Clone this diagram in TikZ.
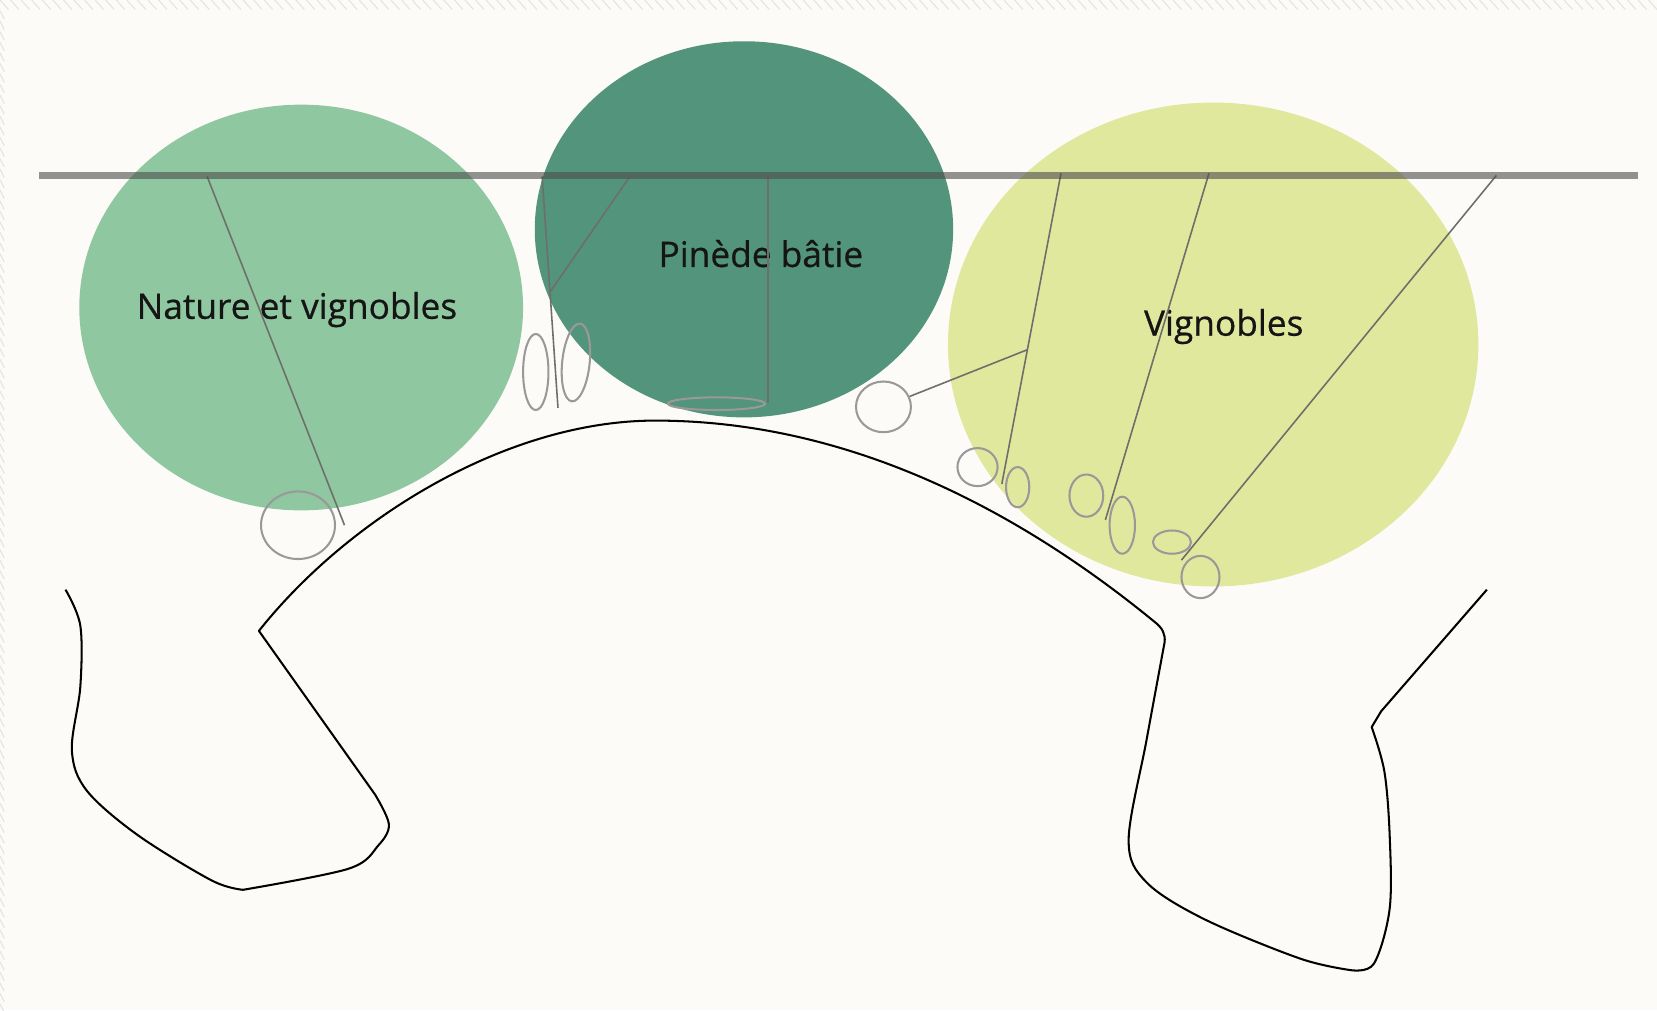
\documentclass[tikz,border=0pt]{standalone}
\usepackage{fontspec}
\setmainfont{Open Sans}
\newfontfamily\zonefont[FakeBold=0.6]{Open Sans}
\usetikzlibrary{shapes.geometric}

\definecolor{paper}{HTML}{FCFBF8}
\definecolor{hatchgray}{HTML}{E4E4E6}
\definecolor{natgreen}{HTML}{8FC7A0}
\definecolor{pinegreen}{HTML}{52947C}
\definecolor{vinegreen}{HTML}{E0E89E}
\definecolor{bargray}{HTML}{505050}
\definecolor{tiegray}{HTML}{6E6E6A}
\definecolor{podgray}{HTML}{9A9898}
\definecolor{labelink}{HTML}{151515}

\begin{document}
\begin{tikzpicture}[x=0.02cm,y=-0.02cm,
  zone label/.style={font=\zonefont\fontsize{19}{23}\selectfont,text=labelink},
  pod/.style={ellipse,draw=podgray,line width=1.1pt,inner sep=0pt},
  tie/.style={draw=tiegray,line width=0.85pt},
  coast/.style={draw=black,line width=1.1pt,line join=round}]

  \fill[paper] (0,0) rectangle (1568,956);
  \useasboundingbox (0,0) rectangle (1568,956);

  % screenshot edge
  \foreach \x in {0,10,...,1560}
    \draw[hatchgray,line width=0.6pt] (\x,0) -- (\x+8,9);
  \foreach \y in {10,20,...,950}
    \draw[hatchgray,line width=0.6pt] (0,\y) -- (4,\y+8);

  % zones
  \fill[natgreen] (285,291) ellipse [x radius=4.2cm, y radius=3.84cm];
  \fill[pinegreen] (704,217) ellipse [x radius=3.96cm, y radius=3.56cm];
  \fill[vinegreen] (1148,326) ellipse [x radius=5.02cm, y radius=4.58cm];

  \node[zone label] (nat) at (281,293) {Nature et vignobles};
  \node[zone label] (pine) at (720,240) {Pinède bâtie};
  \node[zone label] (vine) at (1158,309) {Vignobles};

  % coast line
  \draw[coast] plot[smooth,tension=0.55] coordinates {(62,558) (76,592) (76,650) (68,710) (82,748) (130,790) (200,833) (230,842)}
    -- plot[smooth,tension=0.55] coordinates {(230,842) (330,822) (358,800) (368,780) (355,752)}
    -- (245,597)
    .. controls (330,490) and (480,398) .. (620,398)
    .. controls (800,398) and (960,480) .. (1092,588)
    .. controls (1100,594) and (1103,600) .. (1102,608)
    -- plot[smooth,tension=0.55] coordinates {(1102,608) (1085,700) (1068,795) (1085,835) (1140,870) (1230,907) (1278,918)}
    -- plot[smooth,tension=0.55] coordinates {(1278,918) (1300,912) (1315,860) (1315,790) (1310,730) (1298,688)}
    -- (1307,673) -- (1407,558);

  % small boats
  \node[pod,minimum width=1.40cm,minimum height=1.28cm] (p1) at (282,497) {};
  \node[pod,minimum width=0.48cm,minimum height=1.44cm] (p2) at (507,352) {};
  \node[pod,minimum width=0.52cm,minimum height=1.48cm,rotate=-6] (p3) at (545,343) {};
  \node[pod,minimum width=1.84cm,minimum height=0.24cm] (p4) at (678,382) {};
  \node[pod,minimum width=1.04cm,minimum height=0.96cm] (p5) at (836,385) {};
  \node[pod,minimum width=0.76cm,minimum height=0.72cm] (p6) at (925,442) {};
  \node[pod,minimum width=0.44cm,minimum height=0.76cm] (p7) at (963,461) {};
  \node[pod,minimum width=0.64cm,minimum height=0.80cm] (p8) at (1028,469) {};
  \node[pod,minimum width=0.48cm,minimum height=1.08cm] (p9) at (1062,497) {};
  \node[pod,minimum width=0.72cm,minimum height=0.44cm] (p10) at (1109,513) {};
  \node[pod,minimum width=0.72cm,minimum height=0.80cm] (p11) at (1136,546) {};

  % mooring lines
  \coordinate (t1) at (196,167);
  \coordinate (b1) at (326,497);
  \coordinate (t2) at (596,167);
  \coordinate (k2) at (520,277);
  \coordinate (t3) at (513,167);
  \coordinate (b3) at (528,386);
  \coordinate (t4) at (727,167);
  \coordinate (b4) at (727,381);
  \coordinate (t5) at (1004,164);
  \coordinate (k5) at (972,331);
  \coordinate (b5) at (948,458);
  \coordinate (t6) at (1144,164);
  \coordinate (b6) at (1046,492);
  \coordinate (t7) at (1416,166);
  \coordinate (b7) at (1118,530);

  \path[tie] (t1) edge (b1)
    (t2) edge (k2)
    (t3) edge (b3)
    (t4) edge (b4)
    (t5) edge (b5)
    (k5) edge (p5)
    (t6) edge (b6)
    (t7) edge (b7);

  % quay
  \coordinate (qw) at (37,166);
  \coordinate (qe) at (1550,166);
  \draw[bargray,opacity=0.62,line width=4pt] (qw) -- (qe);

\end{tikzpicture}
\end{document}
